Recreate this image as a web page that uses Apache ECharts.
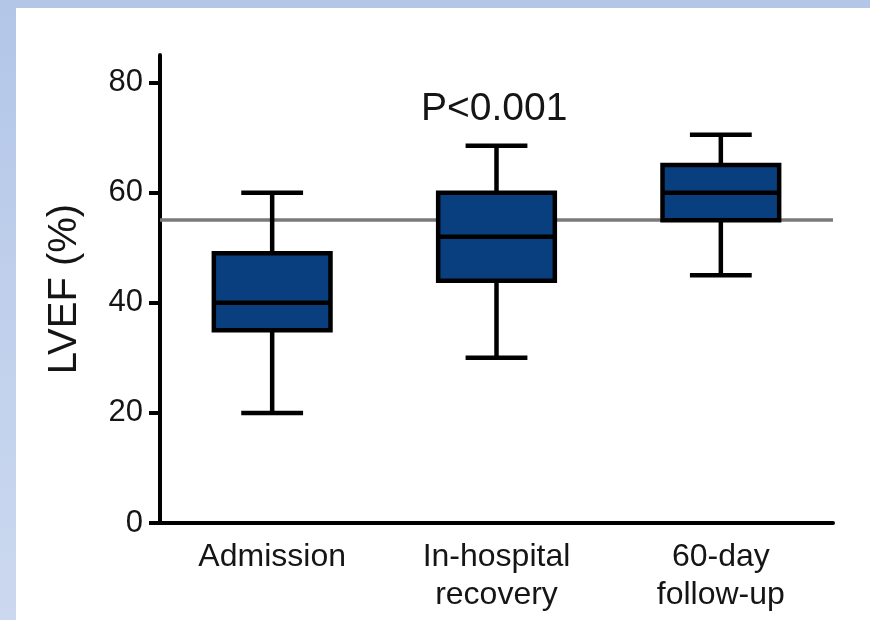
<!DOCTYPE html>
<html>
<head>
<meta charset="utf-8">
<script src="https://cdn.jsdelivr.net/npm/echarts@6/dist/echarts.min.js"></script>
<style>
  html, body { margin: 0; padding: 0; }
  body {
    width: 870px; height: 620px; overflow: hidden; position: relative;
    background: linear-gradient(180deg, #b3c6e8 0%, #c0d0ec 50%, #cbd8ef 100%);
  }
  #chart {
    position: absolute; left: 16px; top: 8px; width: 854px; height: 612px;
    background: #ffffff;
  }
</style>
</head>
<body>
<div id="chart"></div>
<script>
// Study phases on the x axis
const categories = ['Admission', 'In-hospital\nrecovery', '60-day\nfollow-up'];
// Box-and-whisker summary of LVEF (%) per phase
const whiskerLow = [20, 30, 45];
const quartile1 = [35, 44, 55];
const median = [40, 52, 60];
const quartile3 = [49, 60, 65];
const whiskerHigh = [60, 68.5, 70.5];
// Reference threshold for normal LVEF
const normalLimit = 55;
// Y axis tick values
const yTicks = [0, 20, 40, 60, 80];
const pValueText = 'P<0.001';

const boxData = categories.map((c, i) => [i, whiskerLow[i], quartile1[i], median[i], quartile3[i], whiskerHigh[i]]);

const chart = echarts.init(document.getElementById('chart'));
const FONT = '"Liberation Sans", Arial, sans-serif';
const INK = '#151515';

function renderBox(params, api) {
  const idx = api.value(0);
  const band = api.size([1, 0])[0];
  const boxW = band * 0.52;
  const capW = boxW * 0.53;
  const pLow = api.coord([idx, api.value(1)]);
  const pQ1 = api.coord([idx, api.value(2)]);
  const pMed = api.coord([idx, api.value(3)]);
  const pQ3 = api.coord([idx, api.value(4)]);
  const pHigh = api.coord([idx, api.value(5)]);
  const cx = pMed[0];
  const lineStyle = { stroke: '#000', lineWidth: 4.5, lineCap: 'butt' };
  return {
    type: 'group',
    children: [
      { type: 'line', shape: { x1: cx, y1: pQ3[1], x2: cx, y2: pHigh[1] }, style: lineStyle },
      { type: 'line', shape: { x1: cx, y1: pQ1[1], x2: cx, y2: pLow[1] }, style: lineStyle },
      { type: 'line', shape: { x1: cx - capW / 2, y1: pHigh[1], x2: cx + capW / 2, y2: pHigh[1] }, style: lineStyle },
      { type: 'line', shape: { x1: cx - capW / 2, y1: pLow[1], x2: cx + capW / 2, y2: pLow[1] }, style: lineStyle },
      {
        type: 'rect',
        shape: { x: cx - boxW / 2, y: pQ3[1], width: boxW, height: pQ1[1] - pQ3[1] },
        style: { fill: '#0a3f7f', stroke: '#000', lineWidth: 4.5 }
      },
      { type: 'line', shape: { x1: cx - boxW / 2, y1: pMed[1], x2: cx + boxW / 2, y2: pMed[1] }, style: lineStyle }
    ]
  };
}

chart.setOption({
  animation: false,
  backgroundColor: '#ffffff',
  title: {
    text: pValueText,
    left: 400,
    top: 77,
    textStyle: { fontFamily: FONT, fontSize: 39, fontWeight: 'normal', color: INK }
  },
  grid: { left: 144, right: 37, top: 47, bottom: 97 },
  xAxis: {
    type: 'category',
    data: categories,
    boundaryGap: true,
    axisLine: { lineStyle: { color: '#000', width: 4 } },
    axisTick: { show: false },
    axisLabel: {
      fontFamily: FONT, fontSize: 32, color: INK, margin: 15, lineHeight: 38
    },
    splitLine: { show: false }
  },
  yAxis: {
    type: 'value',
    min: 0,
    max: 85,
    interval: 20,
    name: 'LVEF (%)',
    nameLocation: 'middle',
    nameGap: 75,
    nameRotate: 90,
    nameTextStyle: { fontFamily: FONT, fontSize: 40, color: INK },
    axisLine: { show: true, lineStyle: { color: '#000', width: 4 } },
    axisTick: { show: true, length: 11, lineStyle: { color: '#000', width: 4 }, customValues: yTicks },
    axisLabel: { fontFamily: FONT, fontSize: 31, color: INK, margin: 17, customValues: yTicks },
    splitLine: { show: false }
  },
  series: [
    {
      type: 'line',
      data: [],
      z: 1,
      markLine: {
        silent: true,
        symbol: 'none',
        label: { show: false },
        lineStyle: { color: '#7a7a7a', width: 3.5, type: 'solid' },
        data: [{ yAxis: normalLimit }]
      }
    },
    {
      type: 'custom',
      z: 5,
      renderItem: renderBox,
      encode: { x: 0, y: [1, 2, 3, 4, 5] },
      data: boxData
    }
  ]
});
</script>
</body>
</html>
